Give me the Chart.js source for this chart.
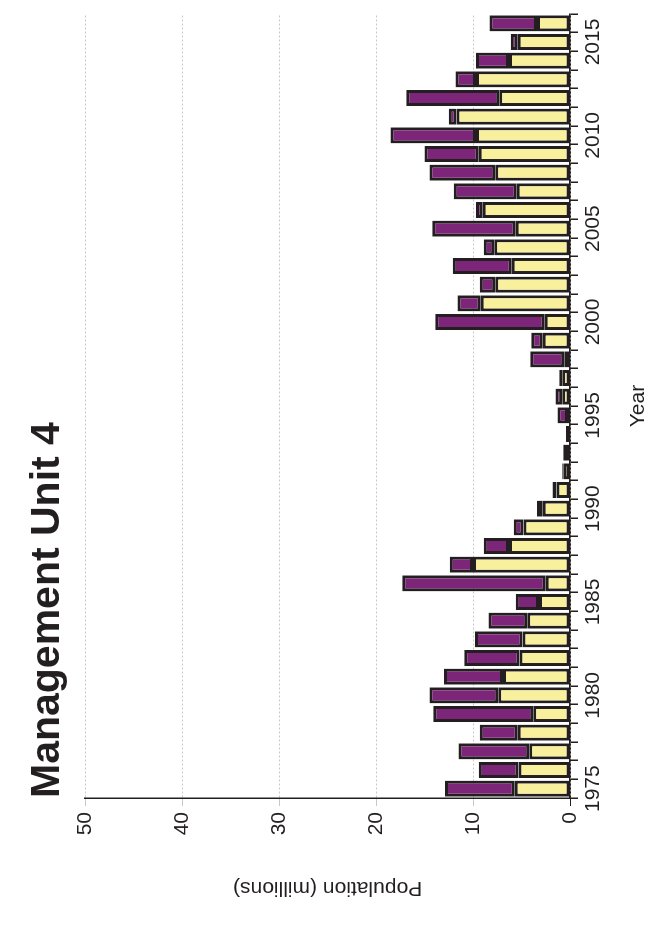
<!DOCTYPE html>
<html>
<head>
<meta charset="utf-8">
<script src="https://cdn.jsdelivr.net/npm/chart.js@4"></script>
<style>
  html, body { margin: 0; padding: 0; background: #fff; overflow: hidden; }
  #wrap {
    position: absolute; left: 0; top: 930px;
    width: 930px; height: 655px;
    transform-origin: 0 0; transform: rotate(-90deg);
  }
</style>
</head>
<body>
<div id="wrap"><canvas id="mu4" width="930" height="655"></canvas></div>
<script>
const years = [];
for (let y = 1975; y <= 2016; y++) years.push(String(y));

// lower (yellow) and upper (purple) parts of each bar, millions
const yellow = [5.7, 5.3, 4.2, 5.4, 3.8, 7.4, 6.9, 5.2, 4.9, 4.4,
  3.2, 2.5, 10.0, 6.3, 4.8, 2.8, 1.4, 0.7, 0.3, 0.1,
  0.2, 0.8, 0.8, 0.6, 2.8, 2.6, 9.2, 7.7, 6.0, 7.8,
  5.6, 9.0, 5.5, 7.7, 9.4, 9.7, 11.7, 7.3, 9.7, 6.3,
  5.4, 3.4];
const purple = [7.2, 4.1, 7.3, 3.9, 10.3, 7.1, 6.1, 5.7, 4.9, 4.0,
  2.4, 14.8, 2.4, 2.6, 1.0, 0.6, 0.4, 0.1, 0.4, 0.3,
  1.1, 0.7, 0.3, 3.5, 1.2, 11.3, 2.4, 1.6, 6.1, 1.1,
  8.6, 0.7, 6.5, 6.8, 5.6, 8.8, 0.8, 9.6, 2.1, 3.4,
  0.7, 4.9];
const valueTicks = [0, 10, 20, 30, 40, 50];

const font = "'Liberation Sans', Arial, sans-serif";

new Chart(document.getElementById("mu4"), {
  type: "bar",
  data: {
    labels: years,
    datasets: [
      { data: yellow, backgroundColor: "#f8f09c", borderColor: "#231f20", borderWidth: 3, borderSkipped: false },
      { data: purple, backgroundColor: "#7d2679", borderColor: "#231f20", borderWidth: 3, borderSkipped: false }
    ]
  },
  options: {
    responsive: false,
    animation: false,
    categoryPercentage: 1,
    barPercentage: 0.86,
    layout: { padding: { left: 0, right: 14, bottom: 0 } },
    plugins: {
      legend: { display: false },
      tooltip: { enabled: false },
      title: {
        display: true, text: "Management Unit 4", align: "start", fullSize: false,
        color: "#231f20", font: { family: font, size: 41, weight: "bold" },
        padding: { top: 23, bottom: 13 }
      }
    },
    scales: {
      x: {
        stacked: true,
        grid: { offset: true, drawOnChartArea: false, tickLength: 8, color: "#231f20", lineWidth: 1.5 },
        border: { color: "#231f20", width: 1.5 },
        ticks: {
          autoSkip: false, maxRotation: 0, color: "#231f20",
          font: { family: font, size: 21 },
          callback: function (v, i) { return (1975 + i) % 5 === 0 ? years[i] : ""; }
        },
        title: { display: true, text: "Year", color: "#231f20", font: { family: font, size: 21 }, padding: { top: 0 } },
        afterFit: function (s) { s.height = 85; }
      },
      y: {
        stacked: true, min: 0, max: 50,
        afterBuildTicks: function (s) { s.ticks = valueTicks.map(v => ({ value: v })); },
        grid: {
          tickLength: 8,
          color: c => c.tick && c.tick.value === 0 ? "#231f20" : "#c8c8c8",
          lineWidth: 1
        },
        border: { color: "#231f20", width: 1.5, dash: [2, 2] },
        ticks: { color: "#231f20", font: { family: font, size: 21 }, padding: 6 },
        title: { display: true, text: "Population (millions)", color: "#231f20", font: { family: font, size: 21 }, padding: { top: 30, bottom: 4 } },
        afterFit: function (s) { s.width = 132; }
      }
    }
  }
});
</script>
</body>
</html>
